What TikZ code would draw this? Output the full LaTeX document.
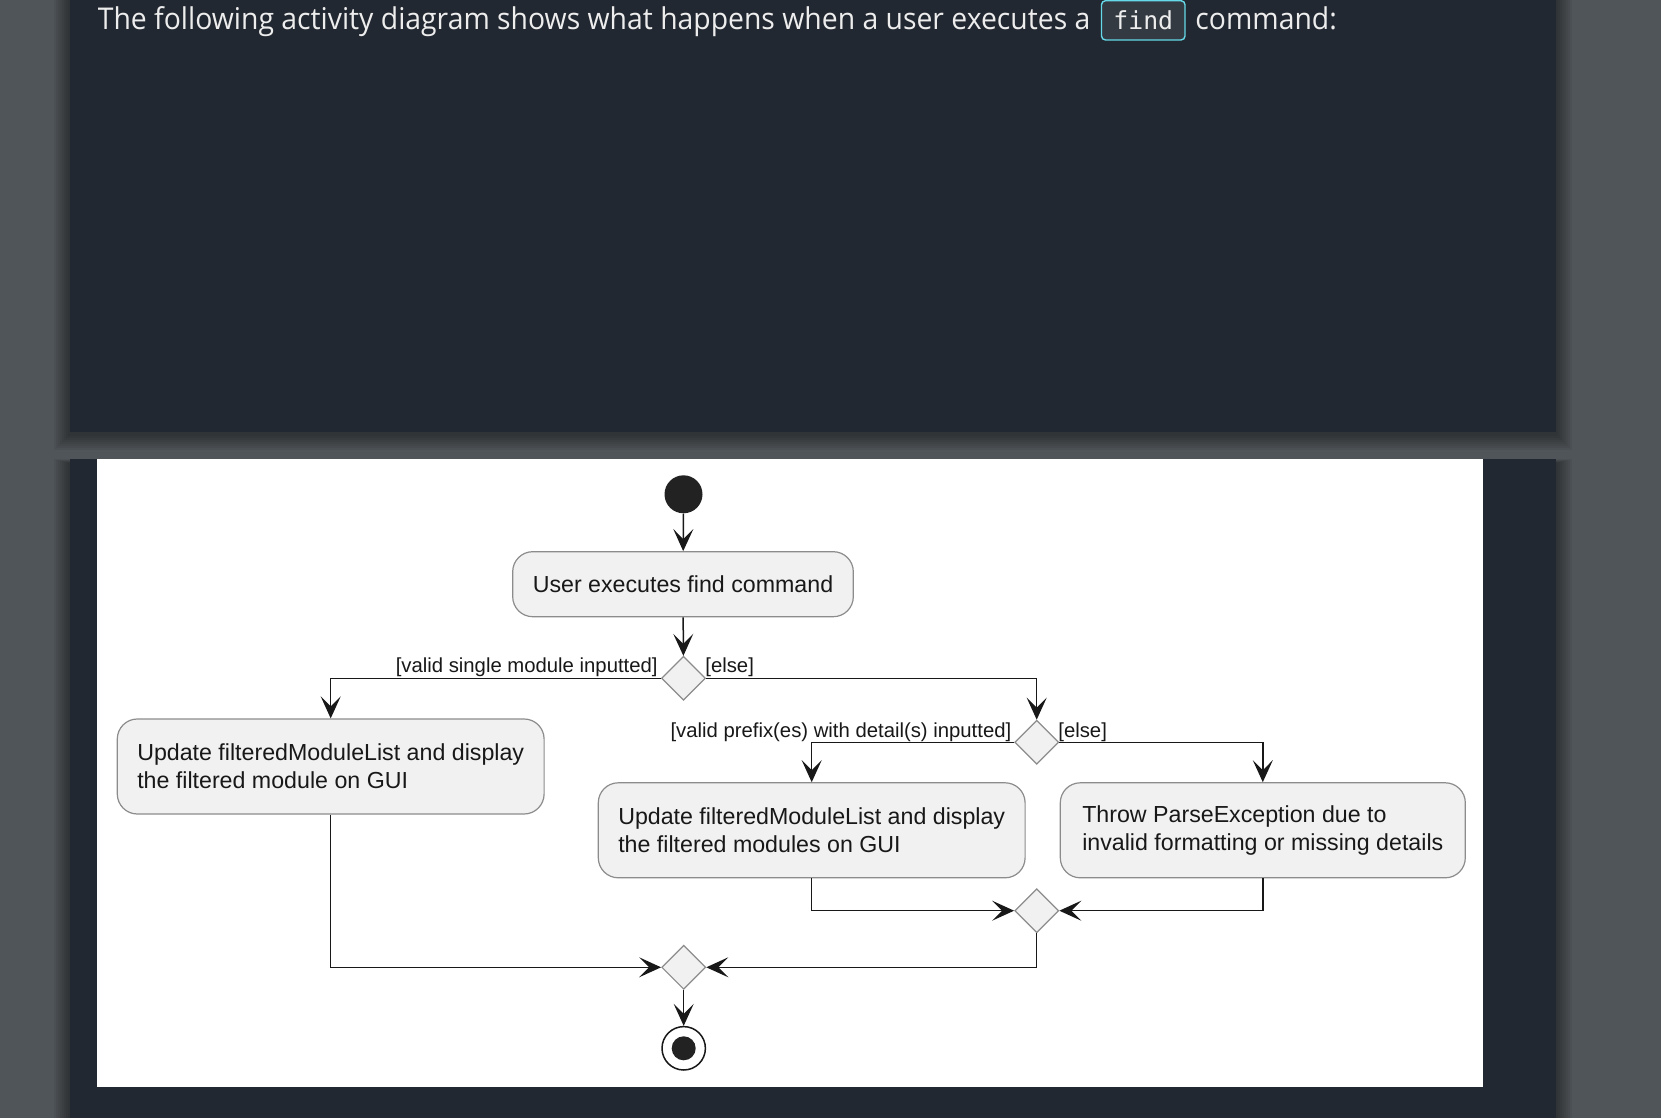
\documentclass[tikz,border=0pt]{standalone}
\usepackage{fontspec}
\setmainfont{Liberation Sans}
\newfontfamily\headfont[FakeStretch=0.945]{Open Sans}
\newfontfamily\codefont{DejaVu Sans Mono}
\usetikzlibrary{shapes.geometric,arrows.meta}
\definecolor{bggray}{HTML}{505559}
\definecolor{panel}{HTML}{222831}
\definecolor{boxfill}{HTML}{F1F1F1}
\definecolor{boxline}{HTML}{8C8C8C}
\definecolor{ink}{HTML}{181818}
\definecolor{dot}{HTML}{222222}
\definecolor{codefill}{HTML}{343A42}
\definecolor{codeline}{HTML}{66D9E8}
\definecolor{headtext}{HTML}{EDEDED}
\begin{document}
\begin{tikzpicture}[x=0.5pt,y=-0.5pt,
  act/.style={draw=boxline, line width=0.6pt, fill=boxfill, rounded corners=10pt,
    font=\fontsize{11.6}{14}\selectfont, text=ink},
  act2/.style={act, align=left, minimum height=47.5pt, inner sep=0pt},
  dec/.style={diamond, draw=boxline, line width=0.6pt, fill=boxfill,
    minimum width=22pt, minimum height=22pt, inner sep=0pt},
  flow/.style={draw=ink, line width=0.75pt, -{Stealth[length=11pt,width=10pt,inset=5pt]}},
  guard/.style={font=\fontsize{10.15}{12}\selectfont, text=ink, inner sep=0pt},
  headtxt/.style={anchor=base west, inner sep=0pt, text=headtext,
    font=\headfont\fontsize{15}{18}\selectfont},
]
\useasboundingbox (0,0) rectangle (1661,1118);
% background and panels
\fill[bggray] (0,0) rectangle (1661,1118);
\foreach \s in {1,...,8} {
  \fill[black, opacity=0.05] ({70-2*\s},{-10}) rectangle ({1556+2*\s},{431.7+2*\s+2});
  \fill[black, opacity=0.05] ({70-2*\s},{459-0.5*\s+4}) rectangle ({1556+2*\s},{1130});
}
\fill[panel] (70,-10) rectangle (1556,431.7);
\fill[panel] (70,459) rectangle (1556,1130);
\fill[white] (97,459) rectangle (1483,1087);

% header
\node[headtxt] (h1) at (97.5,29.3) {The following activity diagram shows what happens when a user executes a};
\node[draw=codeline, fill=codefill, rounded corners=2pt, line width=0.7pt,
  minimum width=41.75pt, minimum height=19.65pt, inner sep=0pt] (code) at (1143.25,20.35) {};
\node[anchor=base, inner sep=0pt, text=headtext, font=\codefont\fontsize{12.4}{14}\selectfont] (codetxt) at (1143.25,29.3) {find};
\node[headtxt] (h2) at (1195,29.3) {command:};

% diagram nodes
\node[circle, fill=dot, minimum size=19pt, inner sep=0pt] (start) at (683.5,494.3) {};
\node[act, minimum width=170.3pt, minimum height=32.5pt, inner sep=0pt] (b1) at (683,584.2) {User executes find command};
\node[dec] (d1) at (683.5,678.3) {};
\node[act2, minimum width=213.4pt] (b2) at (330.7,766.5)
  {Update filteredModuleList and display\\the filtered module on GUI};
\node[dec] (d2) at (1036.7,742.3) {};
\node[act2, minimum width=213.4pt] (b3) at (811.7,830.3)
  {Update filteredModuleList and display\\the filtered modules on GUI};
\node[act2, minimum width=202.5pt] (b4) at (1262.8,830.3)
  {Throw ParseException due to\\invalid formatting or missing details};
\node[dec] (d3) at (1036.7,910.7) {};
\node[dec] (d4) at (683.7,967.3) {};
\node[circle, draw=ink, line width=0.75pt, fill=white, minimum size=21.7pt, inner sep=0pt] (end) at (683.7,1048.3) {};
\node[circle, fill=dot, minimum size=12pt, inner sep=0pt] (endin) at (683.7,1048.3) {};

% guards
\node[guard, anchor=base east] (g1) at (658,672) {[valid single module inputted]};
\node[guard, anchor=base west] (g2) at (705,672) {[else]};
\node[guard, anchor=base east] (g3) at (1011.7,737) {[valid prefix(es) with detail(s) inputted]};
\node[guard, anchor=base west] (g4) at (1058,737) {[else]};

% connectors
\draw[flow] (start) -- (b1);
\draw[flow] (b1) -- (d1);
\draw[flow] (d1.west) -| (b2.north);
\draw[flow] (d1.east) -| (d2.north);
\draw[flow] (d2.west) -| (b3.north);
\draw[flow] (d2.east) -| (b4.north);
\draw[flow] (b3.south) |- (d3.west);
\draw[flow] (b4.south) |- (d3.east);
\draw[flow] (b2.south) |- (d4.west);
\draw[flow] (d3.south) |- (d4.east);
\draw[flow] (d4) -- (end);
\end{tikzpicture}
\end{document}
